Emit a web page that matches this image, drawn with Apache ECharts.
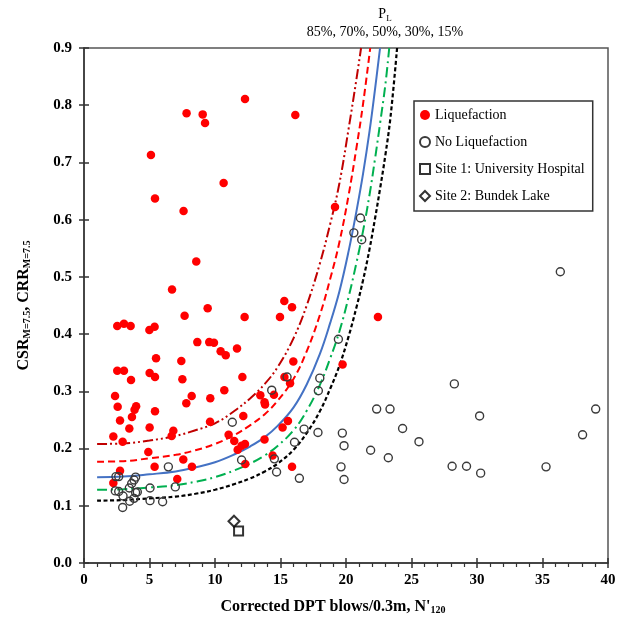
<!DOCTYPE html>
<html>
<head>
<meta charset="utf-8">
<script src="https://cdn.jsdelivr.net/npm/echarts@6/dist/echarts.min.js"></script>
<style>
html,body{margin:0;padding:0;background:#fff;}
#chart{width:625px;height:626px;}
</style>
</head>
<body>
<div id="chart"></div>
<script>
// ---- Data ----
const liquefaction = [
  [7.83,0.786],[9.06,0.784],[9.24,0.769],[5.11,0.713],[10.66,0.664],[5.42,0.637],[7.6,0.615],
  [8.57,0.527],[6.72,0.478],[12.29,0.811],[16.13,0.783],[19.16,0.622],
  [7.68,0.432],[2.54,0.414],[3.05,0.418],[3.56,0.414],[4.99,0.407],[5.39,0.413],[5.5,0.358],
  [7.43,0.353],[2.54,0.336],[3.05,0.336],[3.59,0.320],[5.01,0.332],[5.42,0.325],[7.51,0.321],
  [2.37,0.292],[8.22,0.292],[2.57,0.273],[3.98,0.274],[3.86,0.268],[5.42,0.265],[7.81,0.279],
  [3.66,0.255],[2.75,0.249],[3.46,0.235],[5.01,0.237],[2.24,0.221],[6.82,0.231],[6.69,0.222],
  [2.95,0.212],[4.91,0.194],[5.39,0.168],[7.58,0.181],[2.75,0.161],[2.24,0.140],[7.12,0.147],
  [9.44,0.445],[15.29,0.458],[15.88,0.447],[12.26,0.430],[14.96,0.430],[8.65,0.386],[9.56,0.386],
  [9.92,0.385],[10.43,0.370],[10.82,0.363],[11.68,0.375],[12.09,0.325],[15.98,0.352],[9.64,0.288],
  [10.71,0.302],[13.46,0.293],[13.78,0.281],[13.82,0.277],[14.5,0.294],[15.3,0.325],[15.73,0.314],
  [9.62,0.247],[12.16,0.257],[11.04,0.224],[11.47,0.213],[11.73,0.198],[12.03,0.205],[12.29,0.208],
  [13.78,0.216],[15.16,0.237],[15.57,0.248],[14.4,0.188],[12.31,0.173],[15.88,0.168],[8.24,0.168],
  [22.44,0.430],[19.74,0.347]
];
const noLiquefaction = [
  [2.44,0.151],[2.65,0.151],[6.44,0.168],[3.94,0.150],[3.82,0.145],[3.64,0.139],[3.46,0.131],
  [2.39,0.126],[2.65,0.125],[5.04,0.131],[6.97,0.133],[2.98,0.117],[3.94,0.123],[4.07,0.124],
  [3.49,0.108],[3.82,0.113],[2.95,0.097],[5.04,0.109],[6.0,0.107],
  [11.32,0.246],[14.33,0.302],[15.5,0.325],[12.03,0.180],[14.53,0.182],[14.7,0.159],[16.44,0.148],
  [16.07,0.211],[16.8,0.234],[17.86,0.228],[17.89,0.301],[18.0,0.323],
  [21.1,0.603],[20.6,0.577],[21.2,0.565],
  [19.42,0.391],[28.27,0.313],[22.34,0.269],[23.36,0.269],[19.72,0.227],[24.32,0.235],[19.85,0.205],
  [25.57,0.212],[21.88,0.197],[23.23,0.184],[19.62,0.168],[19.85,0.146],[28.1,0.169],[29.2,0.169],
  [36.36,0.509],[30.2,0.257],[39.06,0.269],[38.06,0.224],[30.28,0.157],[35.27,0.168]
];
const site1 = [[11.8,0.056]];
const site2 = [[11.45,0.073]];

const curve85 = [[1,0.208],[3,0.209],[5,0.214],[7,0.222],[8.5,0.232],[10,0.244],[11.5,0.266],[12.7,0.288],
  [13.8,0.313],[14.8,0.343],[16,0.393],[17,0.450],[18,0.523],[18.8,0.593],[19.5,0.664],[20.2,0.759],[20.8,0.846],[21.15,0.9]];
const curve70 = [[1,0.177],[3,0.178],[5,0.183],[7,0.189],[8.5,0.197],[10,0.208],[11.5,0.224],[12.7,0.241],
  [13.8,0.260],[14.8,0.284],[16,0.322],[17,0.370],[18,0.433],[18.8,0.497],[19.5,0.561],[20.2,0.643],[20.8,0.726],[21.3,0.802],[21.85,0.9]];
const curve50 = [[1,0.150],[3,0.151],[5,0.155],[7,0.160],[8.5,0.167],[10,0.176],[11.5,0.190],[12.7,0.204],
  [13.8,0.220],[14.8,0.240],[16,0.272],[17,0.312],[18,0.365],[18.8,0.420],[19.5,0.475],[20.2,0.545],[20.8,0.615],
  [21.3,0.680],[21.8,0.755],[22.2,0.825],[22.6,0.9]];
const curve30 = [[1,0.128],[3,0.129],[5,0.132],[7,0.136],[8.5,0.142],[10,0.150],[11.5,0.162],[12.7,0.174],
  [13.8,0.188],[14.8,0.205],[16,0.232],[17,0.266],[18,0.311],[18.8,0.358],[19.5,0.405],[20.2,0.465],[20.8,0.525],
  [21.3,0.580],[21.8,0.644],[22.2,0.704],[22.6,0.768],[23.0,0.835],[23.3,0.9]];
const curve15 = [[1,0.109],[3,0.110],[5,0.113],[7,0.116],[8.5,0.121],[10,0.128],[11.5,0.138],[12.7,0.148],
  [13.8,0.160],[14.8,0.174],[16,0.198],[17,0.227],[18,0.265],[18.8,0.305],[19.5,0.345],[20.2,0.396],[20.8,0.447],
  [21.3,0.494],[21.8,0.549],[22.2,0.600],[22.6,0.654],[23.0,0.712],[23.4,0.780],[23.9,0.9]];

const legendNames = ['Liquefaction','No Liquefaction','Site 1: University Hospital','Site 2: Bundek Lake'];
const titleLine1 = '{m|P}{sub|L}';
const titleLine2 = '85%, 70%, 50%, 30%, 15%';
const xName = "Corrected DPT blows/0.3m, N'{sub|120}";
const yName = 'CSR{sub|M=7.5}, CRR{sub|M=7.5}';

// ---- Chart ----
const SERIF = '"Liberation Serif","Times New Roman",serif';
const chart = echarts.init(document.getElementById('chart'), null, {renderer:'canvas'});
const grid = {left:84, right:17, top:48, bottom:63, show:true, borderColor:'#555', borderWidth:1.5, backgroundColor:'transparent'};

function lineSeries(data, color, type, width){
  return {type:'line', data:data, smooth:0.4, showSymbol:false, symbol:'none', clip:true, silent:true,
    lineStyle:{color:color, width:width, type:type}, z:2, xAxisIndex:0, yAxisIndex:0};
}

const axisLabelStyle = {fontFamily:SERIF, fontWeight:'bold', fontSize:15, color:'#000'};
const option = {
  animation:false,
  backgroundColor:'#fff',
  grid:grid,
  graphic:[
    {type:'text', z:10, x:385, y:14, style:{text:titleLine1, align:'center', verticalAlign:'middle',
      fill:'#000',
      rich:{m:{fontSize:14, fontFamily:SERIF, lineHeight:18, verticalAlign:'middle', fill:'#000'},
            sub:{fontSize:9, fontFamily:SERIF, verticalAlign:'bottom', lineHeight:9, fill:'#000'}}}},
    {type:'text', z:10, x:385, y:32, style:{text:titleLine2, align:'center', verticalAlign:'middle',
      font:'14px '+SERIF, fill:'#000'}}
  ],
  legend:{
    orient:'vertical', left:414, top:101, padding:[6,8,7,5], itemGap:11,
    itemWidth:10, itemHeight:10, borderColor:'#333', borderWidth:1.5, backgroundColor:'#fff',
    textStyle:{fontFamily:SERIF, fontSize:14, color:'#000', lineHeight:16},
    data:legendNames, selectedMode:false, z:20
  },
  xAxis:[
    {type:'value', min:0, max:40, interval:5, position:'bottom',
     name:xName, nameLocation:'middle', nameGap:36,
     nameTextStyle:{fontFamily:SERIF, fontWeight:'bold', fontSize:16, color:'#000', padding:[0,26,0,0],
       rich:{sub:{fontFamily:SERIF, fontWeight:'bold', fontSize:10, verticalAlign:'bottom', lineHeight:10}}},
     axisLine:{show:true, lineStyle:{color:'#333', width:1.5}},
     axisTick:{show:true, inside:false, length:5, lineStyle:{color:'#333', width:1.5}},
     minorTick:{show:true, splitNumber:5, length:4, lineStyle:{color:'#333', width:1.2}},
     axisLabel:Object.assign({margin:10}, axisLabelStyle),
     splitLine:{show:false}},
    {type:'value', min:0, max:40, interval:5, position:'bottom', gridIndex:0,
     axisLine:{show:false}, axisLabel:{show:false}, splitLine:{show:false},
     axisTick:{show:true, inside:true, length:5, lineStyle:{color:'#333', width:1.5}}}
  ],
  yAxis:[
    {type:'value', min:0, max:0.9, interval:0.1, position:'left',
     name:yName, nameLocation:'middle', nameGap:52, nameRotate:90,
     nameTextStyle:{fontFamily:SERIF, fontWeight:'bold', fontSize:16, color:'#000',
       rich:{sub:{fontFamily:SERIF, fontWeight:'bold', fontSize:10, verticalAlign:'bottom', lineHeight:10}}},
     axisLine:{show:true, lineStyle:{color:'#333', width:1.5}},
     axisTick:{show:true, inside:false, length:5, lineStyle:{color:'#333', width:1.5}},
     axisLabel:Object.assign({margin:12, formatter:function(v){return v.toFixed(1);}}, axisLabelStyle),
     splitLine:{show:false}},
    {type:'value', min:0, max:0.9, interval:0.1, position:'left', gridIndex:0,
     axisLine:{show:false}, axisLabel:{show:false}, splitLine:{show:false},
     axisTick:{show:true, inside:true, length:5, lineStyle:{color:'#333', width:1.5}}}
  ],
  series:[
    lineSeries(curve85, '#C00000', [10,3,2,3,2,3], 2),
    lineSeries(curve70, '#FF0000', [7,4], 2),
    lineSeries(curve50, '#4472C4', 'solid', 2),
    lineSeries(curve30, '#00B050', [10,4,2,4], 2),
    lineSeries(curve15, '#000000', [4,2.5], 2.2),
    {name:legendNames[0], type:'scatter', data:liquefaction, symbol:'circle', symbolSize:8.5, z:5,
     itemStyle:{color:'#FF0000', opacity:1}},
    {name:legendNames[1], type:'scatter', data:noLiquefaction, symbol:'circle', symbolSize:8, z:6,
     itemStyle:{color:'rgba(255,255,255,0)', borderColor:'#3a3a3a', borderWidth:1.4, opacity:1}},
    {name:legendNames[2], type:'scatter', data:site1, symbol:'rect', symbolSize:9, z:7,
     itemStyle:{color:'#fff', borderColor:'#000', borderWidth:2}},
    {name:legendNames[3], type:'scatter', data:site2, symbol:'diamond', symbolSize:11, z:7,
     itemStyle:{color:'#fff', borderColor:'#000', borderWidth:2}}
  ]
};
chart.setOption(option);
</script>
</body>
</html>
